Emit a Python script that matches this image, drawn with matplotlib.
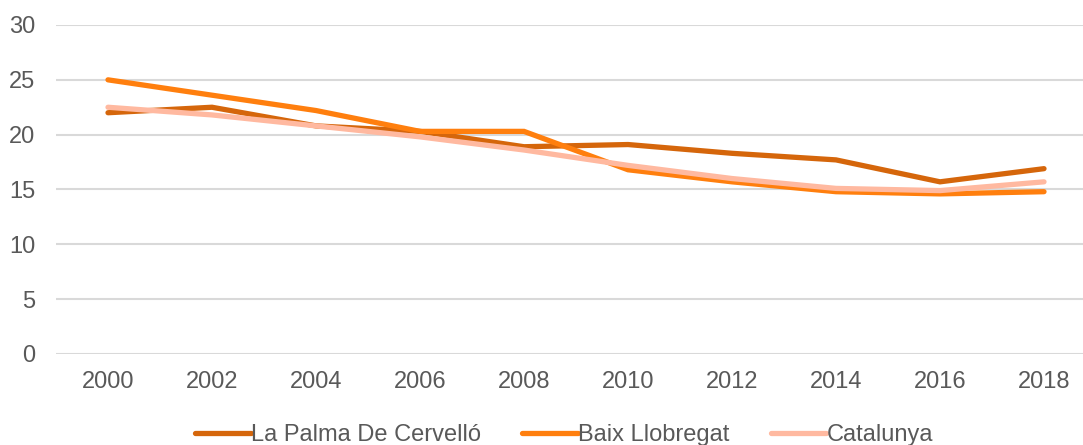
import matplotlib
matplotlib.use("Agg")
import matplotlib.pyplot as plt

years = ["2000", "2002", "2004", "2006", "2008", "2010", "2012", "2014", "2016", "2018"]
la_palma = [22.0, 22.5, 20.8, 20.3, 18.9, 19.1, 18.3, 17.7, 15.7, 16.9]
baix_llobregat = [25.0, 23.6, 22.2, 20.3, 20.3, 16.8, 15.7, 14.8, 14.6, 14.8]
catalunya = [22.5, 21.8, 20.8, 19.8, 18.6, 17.2, 16.0, 15.1, 14.9, 15.7]

series_names = ["La Palma De Cervelló", "Baix Llobregat", "Catalunya"]
colors = ["#D5660B", "#FF7F0E", "#FFB9A0"]

plt.rcParams['font.family'] = ['Liberation Sans', 'DejaVu Sans']

fig = plt.figure(figsize=(10.83, 4.45), dpi=100)
W, H = 1083, 445
left, right = 56, 1096
bottom, top = 354, 25
ax = fig.add_axes([left / W, (H - bottom) / H, (right - left) / W, (bottom - top) / H])

x = list(range(len(years)))
for vals, name, c in zip([la_palma, baix_llobregat, catalunya], series_names, colors):
    ax.plot(x, vals, color=c, lw=3.8, label=name, solid_capstyle='round', solid_joinstyle='miter')

ax.set_xlim(-0.5, len(years) - 0.5)
ax.set_ylim(0, 30)
ax.set_yticks(range(0, 31, 5))
ax.set_xticks(x)
ax.set_xticklabels(years)
ax.yaxis.grid(True, color="#D9D9D9", lw=1.5)
ax.set_axisbelow(True)
for s in ax.spines.values():
    s.set_visible(False)
ax.tick_params(axis='both', length=0, labelsize=17, labelcolor="#595959")
ax.tick_params(axis='y', pad=15)
ax.tick_params(axis='x', pad=12)

fig.legend(loc='center', bbox_to_anchor=(0.521, 0.022), ncol=3, frameon=False,
           fontsize=17, handlelength=2.35, handletextpad=0.02, columnspacing=1.75,
           labelcolor="#595959")

fig.savefig("out.png", dpi=100)
